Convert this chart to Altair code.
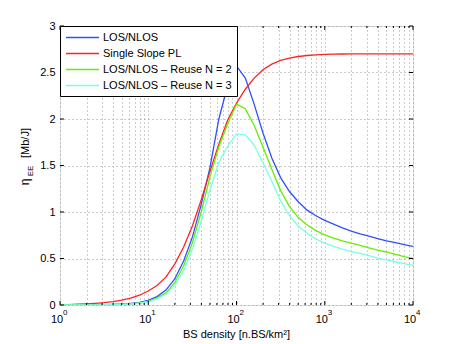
import altair as alt
import pandas as pd

# BS density samples (n.BS/km^2), 10 per decade
density = [1, 1.259, 1.585, 1.995, 2.512, 3.162, 3.981, 5.012, 6.310, 7.943,
           10, 12.59, 15.85, 19.95, 25.12, 31.62, 39.81, 50.12, 63.10, 79.43,
           100, 125.9, 158.5, 199.5, 251.2, 316.2, 398.1, 501.2, 631.0, 794.3,
           1000, 1259, 1585, 1995, 2512, 3162, 3981, 5012, 6310, 7943, 10000]

los_nlos = [0.0, 0.001, 0.001, 0.002, 0.003, 0.004, 0.006, 0.010, 0.016, 0.027,
            0.05, 0.09, 0.16, 0.28, 0.47, 0.73, 1.08, 1.48, 2.00, 2.36,
            2.57, 2.44, 2.16, 1.85, 1.58, 1.37, 1.22, 1.11, 1.02, 0.96,
            0.91, 0.87, 0.83, 0.795, 0.765, 0.74, 0.715, 0.69, 0.67, 0.65, 0.63]

single_slope = [0.003, 0.005, 0.008, 0.012, 0.018, 0.026, 0.037, 0.052, 0.075, 0.105,
                0.15, 0.21, 0.30, 0.44, 0.62, 0.85, 1.13, 1.44, 1.73, 1.99,
                2.17, 2.32, 2.44, 2.53, 2.59, 2.63, 2.655, 2.672, 2.683, 2.69,
                2.694, 2.697, 2.699, 2.70, 2.70, 2.70, 2.70, 2.70, 2.70, 2.70, 2.70]

reuse2 = [0.0, 0.001, 0.001, 0.002, 0.002, 0.003, 0.005, 0.008, 0.013, 0.022,
          0.04, 0.075, 0.13, 0.24, 0.42, 0.67, 1.00, 1.38, 1.70, 1.95,
          2.16, 2.11, 1.93, 1.70, 1.46, 1.23, 1.06, 0.94, 0.86, 0.80,
          0.755, 0.72, 0.69, 0.665, 0.64, 0.615, 0.59, 0.57, 0.545, 0.52, 0.50]

reuse3 = [0.0, 0.001, 0.001, 0.001, 0.002, 0.003, 0.004, 0.007, 0.011, 0.019,
          0.035, 0.065, 0.115, 0.21, 0.37, 0.60, 0.90, 1.24, 1.53, 1.71,
          1.84, 1.83, 1.72, 1.53, 1.33, 1.12, 0.96, 0.85, 0.77, 0.71,
          0.665, 0.63, 0.60, 0.575, 0.555, 0.53, 0.505, 0.485, 0.465, 0.445, 0.425]

series_names = ["LOS/NLOS", "Single Slope PL",
                "LOS/NLOS \u2013 Reuse N = 2", "LOS/NLOS \u2013 Reuse N = 3"]
series_colors = ["#3050ff", "#ff2222", "#66ee00", "#77ffe6"]

decades = [1, 10, 100, 1000, 10000]
decade_base = ["10", "10", "10", "10", "10"]
exponents = ["0", "1", "2", "3", "4"]
minor_ticks = [2, 3, 4, 5, 6, 7, 8, 9,
               20, 30, 40, 50, 60, 70, 80, 90,
               200, 300, 400, 500, 600, 700, 800, 900,
               2000, 3000, 4000, 5000, 6000, 7000, 8000, 9000]
x_grid = sorted(decades + minor_ticks)
y_ticks = [0, 0.5, 1, 1.5, 2, 2.5, 3]

FONT = "Liberation Sans"
W, H = 353, 279

rows = []
for name, vals in zip(series_names, [los_nlos, single_slope, reuse2, reuse3]):
    for d, v in zip(density, vals):
        rows.append({"density": d, "eta": v, "series": name})
df = pd.DataFrame(rows)

xscale = alt.Scale(type="log", domain=[1, 10000], nice=False)
yscale = alt.Scale(domain=[0, 3], nice=False, zero=False)

lines = alt.Chart(df).mark_line(strokeWidth=1.3, clip=True).encode(
    x=alt.X("density:Q", scale=xscale,
            axis=alt.Axis(values=x_grid, labels=False,
                          grid=True, gridDash=[1, 3], gridColor="#9a9a9a", gridOpacity=1,
                          ticks=False, domain=False, title=None)),
    y=alt.Y("eta:Q", scale=yscale,
            axis=alt.Axis(values=y_ticks, format="~g",
                          grid=True, gridDash=[1, 3], gridColor="#9a9a9a", gridOpacity=1,
                          ticks=False, domain=False, labelPadding=5,
                          labelFontSize=11, labelFont=FONT, labelColor="black",
                          labelOverlap=False, labelFlush=False, title=None)),
    color=alt.Color("series:N", sort=series_names,
                    scale=alt.Scale(domain=series_names, range=series_colors),
                    legend=alt.Legend(title=None, orient="top-left", offset=0,
                                      fillColor="white", strokeColor="black",
                                      padding=5, cornerRadius=0,
                                      symbolType="M-1,0H5", symbolSize=121,
                                      symbolStrokeWidth=1.3, labelOffset=25,
                                      labelFontSize=11, labelFont=FONT,
                                      labelColor="black", rowPadding=4)),
)

# decade tick labels: "10" with a superscript exponent
lab_df = pd.DataFrame({"density": decades, "b": decade_base, "e": exponents})
bases = alt.Chart(lab_df).mark_text(align="center", baseline="top", fontSize=11,
                                    dx=-3, font=FONT, color="black").encode(
    x=alt.X("density:Q", scale=xscale),
    y=alt.value(H + 9),
    text="b:N",
)
exps = alt.Chart(lab_df).mark_text(align="left", baseline="middle", fontSize=8,
                                   dx=3, font=FONT, color="black").encode(
    x=alt.X("density:Q", scale=xscale),
    y=alt.value(H + 8),
    text="e:N",
)

# inward ticks
ytick_df = pd.DataFrame({"eta": y_ticks})
ytl = alt.Chart(ytick_df).mark_rule(color="black", strokeWidth=1).encode(
    y=alt.Y("eta:Q", scale=yscale), x=alt.value(0), x2=alt.value(4))
ytr = alt.Chart(ytick_df).mark_rule(color="black", strokeWidth=1).encode(
    y=alt.Y("eta:Q", scale=yscale), x=alt.value(W), x2=alt.value(W - 4))
xmaj_df = pd.DataFrame({"density": decades})
xmin_df = pd.DataFrame({"density": minor_ticks})
xtb = alt.Chart(xmaj_df).mark_rule(color="black", strokeWidth=1).encode(
    x=alt.X("density:Q", scale=xscale), y=alt.value(H), y2=alt.value(H - 4))
xtt = alt.Chart(xmaj_df).mark_rule(color="black", strokeWidth=1).encode(
    x=alt.X("density:Q", scale=xscale), y=alt.value(0), y2=alt.value(4))
xmb = alt.Chart(xmin_df).mark_rule(color="black", strokeWidth=1).encode(
    x=alt.X("density:Q", scale=xscale), y=alt.value(H), y2=alt.value(H - 2))
xmt = alt.Chart(xmin_df).mark_rule(color="black", strokeWidth=1).encode(
    x=alt.X("density:Q", scale=xscale), y=alt.value(0), y2=alt.value(2))

# axis titles
t_x = alt.Chart().mark_text(text="BS density [n.BS/km\u00b2]", fontSize=11, align="center",
                            baseline="top", font=FONT, color="black").encode(
    x=alt.value(W / 2), y=alt.value(H + 24))
t_eta = alt.Chart().mark_text(text="\u03b7", angle=270, fontSize=12, align="center",
                              baseline="alphabetic", font=FONT, color="black").encode(
    x=alt.value(-31), y=alt.value(156))
t_sub = alt.Chart().mark_text(text="EE", angle=270, fontSize=8, align="center",
                              baseline="alphabetic", font=FONT, color="black").encode(
    x=alt.value(-27.5), y=alt.value(145))
t_unit = alt.Chart().mark_text(text="[Mb/J]", angle=270, fontSize=11, align="center",
                               baseline="alphabetic", font=FONT, color="black").encode(
    x=alt.value(-31), y=alt.value(117))

chart = alt.layer(lines, bases, exps, ytl, ytr, xtb, xtt, xmb, xmt,
                  t_x, t_eta, t_sub, t_unit).properties(
    width=W, height=H,
    padding={"left": 52, "top": 18, "right": 30, "bottom": 36},
    autosize=alt.AutoSizeParams(type="none"),
).configure_view(stroke="black", strokeWidth=1).configure(font=FONT)

chart.save("out.html", embed_options={"renderer": "svg", "actions": False})
